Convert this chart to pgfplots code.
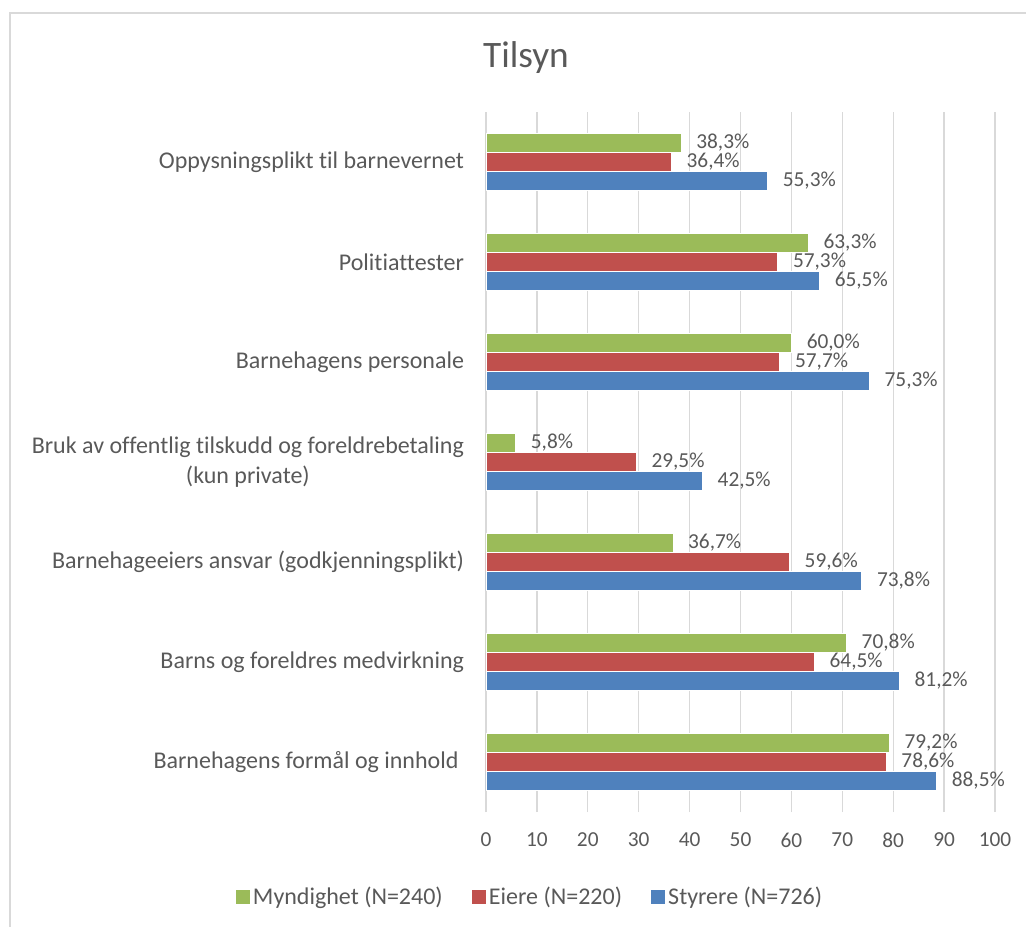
\documentclass[border=0pt]{standalone}
\usepackage{pgfplots}
\pgfplotsset{compat=1.18}
\usepackage{fontspec}
\setmainfont{Carlito}[Ligatures=NoCommon]

\definecolor{cgreen}{HTML}{9BBB59}
\definecolor{cred}{HTML}{C0504D}
\definecolor{cblue}{HTML}{4F81BD}
\definecolor{ctext}{HTML}{595959}
\definecolor{cgrid}{HTML}{D9D9D9}

\begin{document}
\begin{tikzpicture}[x=0.75pt,y=0.75pt]
% frame (only top and left edges are visible in the original)
\draw[cgrid, line width=1pt] (10,-940) -- (10,-13) -- (1040,-13);
\node[text=ctext, font=\fontsize{28}{32}\selectfont] at (526,-58) {Tilsyn};

\begin{axis}[
  at={(364.5pt,-609pt)}, anchor=south west,
  scale only axis,
  width=381.75pt, height=525pt,
  xbar=0pt, bar width=14.25pt,
  xmin=0, xmax=100,
  ymin=-0.5, ymax=6.5,
  xtick={0,10,...,100},
  ytick={0,...,6},
  yticklabels={
    Barnehagens formål og innhold\ ,
    Barns og foreldres medvirkning,
    Barnehageeiers ansvar (godkjenningsplikt),
    {Bruk av offentlig tilskudd og foreldrebetaling\\(kun private)},
    Barnehagens personale,
    Politiattester,
    Oppysningsplikt til barnevernet},
  yticklabel style={align=center, font=\fontsize{18}{22.5}\selectfont, text=ctext, xshift=-13pt},
  xticklabel style={font=\fontsize{16}{19}\selectfont, text=ctext, yshift=-12pt},
  /pgf/number format/assume math mode=true,
  major tick length=0pt,
  axis x line*=bottom, axis y line*=left,
  x axis line style={draw=none},
  y axis line style={cgrid, line width=1pt},
  xmajorgrids, grid style={cgrid, line width=1pt},
  point meta=x,
  nodes near coords={\pgfmathprintnumber[fixed,fixed zerofill,precision=1,use comma]{\pgfplotspointmeta}\%},
  every node near coord/.append style={font=\fontsize{16}{19}\selectfont, text=ctext, anchor=west, xshift=8pt},
  legend columns=3, reverse legend,
  legend style={at={(0.086,-0.121)}, anchor=center, draw=none, fill=none,
    font=\fontsize{18}{21}\selectfont, text=ctext,
    /tikz/every even column/.append style={column sep=19pt}},
  legend image code/.code={\fill[#1] (0pt,-5.6pt) rectangle (11.25pt,5.6pt);},
]
\addplot[fill=cblue, draw=white, line width=0.4pt] coordinates
  {(88.5,0) (81.2,1) (73.8,2) (42.5,3) (75.3,4) (65.5,5) (55.3,6)};
\addplot[fill=cred, draw=white, line width=0.4pt] coordinates
  {(78.6,0) (64.5,1) (59.6,2) (29.5,3) (57.7,4) (57.3,5) (36.4,6)};
\addplot[fill=cgreen, draw=white, line width=0.4pt] coordinates
  {(79.2,0) (70.8,1) (36.7,2) (5.8,3) (60.0,4) (63.3,5) (38.3,6)};
\legend{Styrere (N=726), Eiere (N=220), Myndighet (N=240)}
\end{axis}

\pgfresetboundingbox
\path[use as bounding box] (0,0) rectangle (1026,-927);
\end{tikzpicture}
\end{document}
